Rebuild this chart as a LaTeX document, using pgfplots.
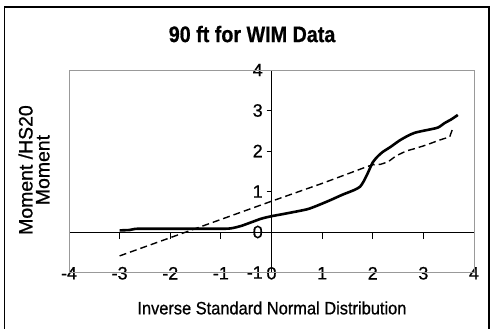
\documentclass[border=0pt]{standalone}
\usepackage{pgfplots}
\pgfplotsset{compat=1.18}
\usepackage{fontspec}
\setmainfont{Liberation Sans}
\newfontfamily\heavyf{Liberation Sans}[FakeBold=0.8]
\newcommand{\tickfont}{\heavyf\fontsize{18}{20}\selectfont}
\begin{document}
\begin{tikzpicture}[x=1bp,y=1bp]
\useasboundingbox (0,0) rectangle (493,328);
\draw[line width=1.2bp] (4.5,-10) rectangle (489,321);
\begin{axis}[
  at={(69bp,55.5bp)}, anchor=south west,
  width=405bp, height=202.5bp, scale only axis,
  xmin=-4, xmax=4, ymin=-1, ymax=4,
  axis lines=middle,
  axis line style={-, line width=1bp, black},
  xtick={-4,...,4}, ytick={-1,...,4},
  hide obscured x ticks=false, hide obscured y ticks=false,
  tick align=outside,
  xtick style={black, line width=1bp, /pgfplots/major tick length=7bp},
  ytick style={black, line width=1bp, /pgfplots/major tick length=5bp},
  /pgf/number format/assume math mode=true,
  xticklabel style={anchor=center, yshift=-37bp, font=\tickfont},
  yticklabel style={anchor=east, xshift=-1bp, font=\tickfont},
  xticklabels={{\tickfont -4},{\tickfont -3},{\tickfont -2},{\tickfont -1},{\tickfont 0},{\tickfont 1},{\tickfont 2},{\tickfont 3},{\tickfont 4}},
  yticklabels={{\tickfont -1},{\tickfont 0},{\tickfont 1},{\tickfont 2},{\tickfont 3},{\tickfont 4}},
  clip=false,
  title={\scalebox{0.88}[1]{\bfseries\addfontfeatures{FakeBold=0.7}90 ft for WIM Data}},
  title style={at={(axis description cs:0.452,1.148)}, anchor=center, font=\fontsize{22.5}{24}\selectfont},
  xlabel={\scalebox{0.915}[1]{Inverse Standard Normal Distribution}},
  xlabel style={at={(axis description cs:0.501,-0.175)}, anchor=center, font=\heavyf\fontsize{18}{20}\selectfont},
  ylabel={Moment /HS20\\Moment},
  ylabel style={at={(axis description cs:-0.0864,0.506)}, anchor=center, rotate=90, align=center, font=\heavyf\fontsize{19.5}{17}\selectfont},
]
\draw[gray!80, line width=1bp] (rel axis cs:0,0) rectangle (rel axis cs:1,1);
\addplot[black, line width=1.4bp, dash pattern=on 7bp off 4bp] coordinates {
(-3,-0.59) (-1,0.31) (0,0.76) (1,1.2) (1.9,1.62) (2.0,1.66) (2.15,1.67) (2.3,1.73) (2.46,1.88) (2.66,2.0) (2.86,2.07) (3.06,2.15) (3.32,2.27) (3.52,2.35) (3.58,2.56)
};
\addplot[black, line width=2.6bp, smooth, tension=0.4] coordinates {
(-3.0,0.04) (-2.8,0.05) (-2.65,0.08) (-2.0,0.08) (-1.0,0.08) (-0.8,0.09) (-0.6,0.15) (-0.4,0.24) (-0.2,0.33) (0,0.39) (0.3,0.46) (0.7,0.56) (0.9,0.65) (1.15,0.78) (1.4,0.92) (1.64,1.04) (1.75,1.12) (1.82,1.25) (1.9,1.45) (2.0,1.72) (2.1,1.87) (2.2,1.98) (2.35,2.1) (2.53,2.26) (2.7,2.38) (2.83,2.45) (3.0,2.5) (3.12,2.53) (3.29,2.58) (3.42,2.69) (3.55,2.78) (3.68,2.89)
};
\end{axis}
\end{tikzpicture}
\end{document}
